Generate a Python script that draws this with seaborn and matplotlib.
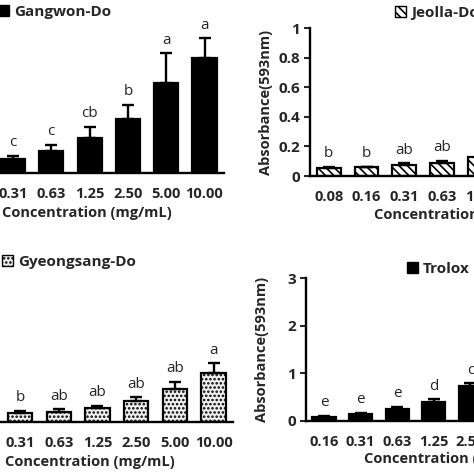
import matplotlib
matplotlib.use("Agg")
import matplotlib.pyplot as plt
import seaborn as sns
from matplotlib.patches import Patch

sns.set_style("white")
plt.rcParams['font.family'] = ['Open Sans', 'DejaVu Sans']
plt.rcParams['hatch.linewidth'] = 1.2

# --- data ---
gangwon_conc = ["0.31", "0.63", "1.25", "2.50", "5.00", "10.00"]
gangwon_abs = [0.095, 0.149, 0.236, 0.365, 0.61, 0.78]
gangwon_err = [0.02, 0.04, 0.075, 0.095, 0.20, 0.13]
gangwon_sig = ["c", "c", "cb", "b", "a", "a"]

jeolla_conc = ["0.08", "0.16", "0.31", "0.63", "1.25"]
jeolla_abs = [0.055, 0.058, 0.075, 0.088, 0.13]
jeolla_err = [0.006, 0.006, 0.01, 0.015, 0.02]
jeolla_sig = ["b", "b", "ab", "ab", "a"]

gyeong_conc = ["0.31", "0.63", "1.25", "2.50", "5.00", "10.00"]
gyeong_abs = [0.19, 0.21, 0.28, 0.435, 0.69, 1.03]
gyeong_err = [0.035, 0.05, 0.055, 0.08, 0.15, 0.20]
gyeong_sig = ["b", "ab", "ab", "ab", "ab", "a"]

trolox_conc = ["0.16", "0.31", "0.63", "1.25", "2.50"]
trolox_abs = [0.09, 0.147, 0.25, 0.405, 0.74]
trolox_err = [0.02, 0.025, 0.05, 0.05, 0.05]
trolox_sig = ["e", "e", "e", "d", "c"]

PX = 474.0
fig = plt.figure(figsize=(4.74, 4.74), dpi=100)


def panel(left, bottom, width, height, conc, vals, errs, sig, ymax, yticks,
          ylabels, xlim, face, hatch, name, leg_x, leg_y, xlab_x, xlab_off,
          show_y=True):
    ax = fig.add_axes([left / PX, (PX - bottom) / PX, width / PX, height / PX])
    sns.barplot(x=conc, y=vals, order=conc, color="black", width=0.63,
                errorbar=None, ax=ax, zorder=2)
    for p in ax.patches:
        p.set_facecolor(face)
        p.set_edgecolor("black")
        p.set_linewidth(1.6)
        if hatch:
            p.set_hatch(hatch)
    n = len(conc)
    ax.errorbar(range(n), vals, yerr=[[0] * n, errs], fmt="none",
                ecolor="black", elinewidth=1.7, capsize=4.5, capthick=1.7,
                zorder=3)
    for i in range(n):
        ax.annotate(sig[i], (i, vals[i] + errs[i]), xytext=(0, 4),
                    textcoords="offset points", ha="center", va="bottom",
                    fontsize=11)
    ax.set_xlim(*xlim)
    ax.set_ylim(0, ymax)
    ax.set_xticks(range(n))
    ax.set_xticklabels(conc, fontsize=10.5, fontweight="bold")
    ax.tick_params(axis="x", length=0, pad=10)
    for s in ["top", "right"]:
        ax.spines[s].set_visible(False)
    for s in ["left", "bottom"]:
        ax.spines[s].set_linewidth(1.7)
        ax.spines[s].set_color("black")
    ax.set_xlabel("Concentration (mg/mL)", fontsize=10.5, fontweight="bold")
    ax.xaxis.set_label_coords(xlab_x, -xlab_off / height)
    if show_y:
        ax.set_yticks(yticks)
        ax.set_yticklabels(ylabels, fontsize=11, fontweight="bold")
        ax.tick_params(axis="y", length=4, width=1.5, pad=3, direction="out",
                       left=True)
        ax.set_ylabel("Absorbance(593nm)", fontsize=10.5, fontweight="bold")
        ax.yaxis.set_label_coords(-37.0 / width, 0.5)
    else:
        # y axis of the left column lies outside the cropped picture
        ax.set_yticks([])
        ax.spines["left"].set_visible(False)
    handle = Patch(facecolor=face, edgecolor="black", hatch=hatch,
                   linewidth=1.0, label=name)
    fig.legend(handles=[handle], loc="center left",
               bbox_to_anchor=(leg_x / PX, 1 - leg_y / PX), frameon=False,
               borderpad=0, borderaxespad=0, handlelength=0.75,
               handleheight=0.75, handletextpad=0.3,
               prop={"weight": "bold", "size": 11})
    return ax


panel(-82.75, 173, 306.4, 148, gangwon_conc, gangwon_abs, gangwon_err,
      gangwon_sig, 1, None, None, (-2.5, 5.5), "black", None,
      "Gangwon-Do", -2, 12, 0.554, 33, show_y=False)

panel(310, 176, 301.6, 148, jeolla_conc, jeolla_abs, jeolla_err,
      jeolla_sig, 1, [0, 0.2, 0.4, 0.6, 0.8, 1],
      ["0", "0.2", "0.4", "0.6", "0.8", "1"], (-0.5, 7.5), "white",
      "\\\\\\\\", "Jeolla-Do", 395, 13, 0.492, 32)

panel(-76.75, 421.7, 309.6, 142.8, gyeong_conc, gyeong_abs, gyeong_err,
      gyeong_sig, 3, None, None, (-2.5, 5.5),
      "#f0f0f0", "....", "Gyeongsang-Do", 2, 262, 0.539, 33, show_y=False)

panel(305.7, 421, 292.8, 142.8, trolox_conc, trolox_abs, trolox_err,
      trolox_sig, 3, [0, 1, 2, 3], ["0", "1", "2", "3"], (-0.5, 7.5),
      "black", None, "Trolox", 407, 268.7, 0.488, 31)

fig.savefig("out.png", dpi=100)
